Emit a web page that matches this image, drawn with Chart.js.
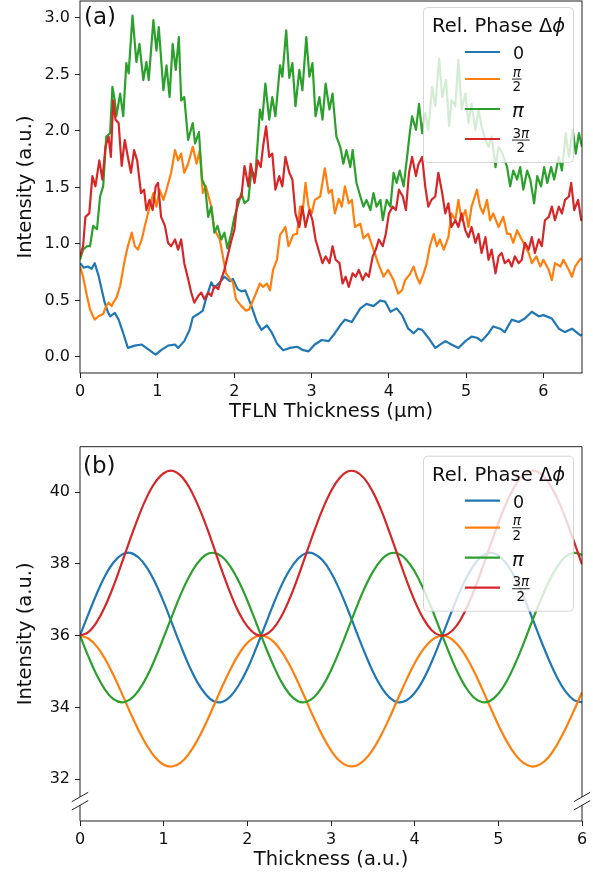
<!DOCTYPE html>
<html><head><meta charset="utf-8">
<script src="https://cdn.jsdelivr.net/npm/chart.js@4.4.1/dist/chart.umd.min.js"></script>
<style>
html,body{margin:0;padding:0;background:#fff;width:593px;height:873px;overflow:hidden;}
canvas{position:absolute;left:0;}
#c1{top:0;} #c2{top:430px;}
</style></head><body>
<canvas id="c1" width="593" height="425"></canvas>
<canvas id="c2" width="593" height="443"></canvas>
<script>
// ---------- shared ----------
const phaseNames = ['0', 'π/2', 'π', '3π/2'];
const colors = ['#1f77b4', '#ff7f0e', '#2ca02c', '#d62728'];

// ---------- panel (a): TFLN thickness (µm) vs intensity ----------
const xTicksA = [0, 1, 2, 3, 4, 5, 6];
const yTicksA = [0, 0.5, 1, 1.5, 2, 2.5, 3];
const seriesA0 = [[0,0.83],[0.05,0.79],[0.1,0.80],[0.15,0.78],[0.19,0.83],[0.24,0.72],[0.28,0.60],[0.32,0.48],[0.36,0.40],[0.39,0.36],[0.45,0.39],[0.5,0.33],[0.56,0.21],[0.62,0.08],[0.71,0.10],[0.8,0.11],[0.88,0.07],[0.98,0.02],[1.05,0.06],[1.14,0.10],[1.23,0.11],[1.27,0.08],[1.35,0.14],[1.42,0.24],[1.46,0.35],[1.53,0.38],[1.59,0.41],[1.63,0.51],[1.7,0.66],[1.74,0.61],[1.81,0.66],[1.87,0.71],[1.94,0.67],[1.98,0.69],[2.04,0.60],[2.09,0.58],[2.14,0.59],[2.18,0.52],[2.22,0.45],[2.29,0.31],[2.35,0.24],[2.42,0.28],[2.48,0.22],[2.55,0.12],[2.63,0.06],[2.72,0.08],[2.81,0.09],[2.89,0.06],[2.96,0.05],[3.04,0.11],[3.13,0.15],[3.22,0.14],[3.3,0.21],[3.37,0.28],[3.43,0.33],[3.52,0.31],[3.63,0.43],[3.71,0.47],[3.8,0.45],[3.89,0.50],[3.95,0.49],[4.02,0.40],[4.1,0.43],[4.17,0.37],[4.25,0.25],[4.32,0.21],[4.38,0.25],[4.43,0.24],[4.51,0.17],[4.6,0.08],[4.73,0.14],[4.81,0.11],[4.9,0.08],[4.99,0.14],[5.07,0.18],[5.14,0.17],[5.2,0.14],[5.29,0.21],[5.35,0.27],[5.44,0.25],[5.5,0.22],[5.59,0.33],[5.68,0.31],[5.76,0.34],[5.85,0.40],[5.94,0.36],[6,0.37],[6.11,0.34],[6.2,0.25],[6.28,0.22],[6.37,0.25],[6.48,0.19],[6.5,0.20]];
const seriesA1 = [[0,0.80],[0.04,0.71],[0.09,0.54],[0.13,0.42],[0.19,0.33],[0.24,0.36],[0.30,0.38],[0.34,0.45],[0.37,0.48],[0.41,0.45],[0.43,0.48],[0.47,0.52],[0.52,0.63],[0.58,0.86],[0.62,0.98],[0.67,1.10],[0.71,0.98],[0.75,0.95],[0.80,1.04],[0.84,1.16],[0.88,1.27],[0.95,1.45],[0.99,1.33],[1.03,1.48],[1.08,1.39],[1.12,1.48],[1.18,1.63],[1.23,1.83],[1.27,1.74],[1.31,1.80],[1.35,1.63],[1.40,1.71],[1.46,1.86],[1.51,1.71],[1.55,1.83],[1.59,1.45],[1.63,1.51],[1.70,1.33],[1.74,1.13],[1.81,1.04],[1.85,0.89],[1.89,0.74],[1.94,0.69],[1.98,0.66],[2.02,0.51],[2.09,0.45],[2.15,0.41],[2.19,0.42],[2.24,0.50],[2.33,0.65],[2.37,0.62],[2.42,0.65],[2.46,0.59],[2.50,0.77],[2.55,0.86],[2.59,1.08],[2.66,1.15],[2.70,0.98],[2.76,1.08],[2.81,1.09],[2.85,1.33],[2.89,1.33],[2.92,1.54],[2.96,1.33],[3.00,1.27],[3.04,1.39],[3.11,1.42],[3.17,1.67],[3.22,1.45],[3.26,1.48],[3.30,1.27],[3.35,1.40],[3.39,1.33],[3.43,1.51],[3.48,1.36],[3.52,1.39],[3.56,1.15],[3.63,1.18],[3.67,1.05],[3.73,1.09],[3.80,0.95],[3.86,0.83],[3.93,0.71],[3.99,0.77],[4.06,0.68],[4.12,0.56],[4.17,0.59],[4.21,0.68],[4.27,0.73],[4.32,0.80],[4.36,0.71],[4.40,0.65],[4.45,0.74],[4.49,0.83],[4.53,0.98],[4.58,1.09],[4.62,0.98],[4.66,1.04],[4.71,0.95],[4.77,1.06],[4.81,1.27],[4.86,1.21],[4.90,1.39],[4.94,1.21],[4.99,1.30],[5.03,1.15],[5.07,1.33],[5.14,1.48],[5.18,1.33],[5.22,1.27],[5.27,1.39],[5.31,1.21],[5.35,1.27],[5.42,1.15],[5.48,1.24],[5.53,1.09],[5.57,1.09],[5.61,1.01],[5.66,1.12],[5.72,1.04],[5.81,0.92],[5.85,0.83],[5.91,0.89],[5.96,0.80],[6.00,0.86],[6.07,0.77],[6.11,0.68],[6.15,0.83],[6.22,0.80],[6.26,0.86],[6.33,0.77],[6.37,0.71],[6.41,0.80],[6.48,0.87],[6.5,0.86]];
const seriesA2 = [[0,0.86],[0.04,0.95],[0.09,0.98],[0.13,0.98],[0.17,1.16],[0.22,1.13],[0.26,1.42],[0.30,1.51],[0.34,1.95],[0.39,1.98],[0.42,2.39],[0.45,2.27],[0.47,2.13],[0.52,2.33],[0.56,2.13],[0.60,2.60],[0.63,2.51],[0.68,3.02],[0.73,2.61],[0.77,2.77],[0.82,2.45],[0.86,2.61],[0.89,2.45],[0.95,2.98],[0.99,2.71],[1.02,2.92],[1.08,2.36],[1.12,2.58],[1.16,2.30],[1.20,2.77],[1.24,2.54],[1.28,2.83],[1.31,2.27],[1.35,2.30],[1.40,1.92],[1.46,2.07],[1.49,1.89],[1.54,1.99],[1.58,1.57],[1.62,1.51],[1.66,1.24],[1.70,1.33],[1.74,1.10],[1.78,1.16],[1.83,1.04],[1.87,1.10],[1.91,0.96],[1.96,1.10],[2.00,1.24],[2.04,1.33],[2.09,1.45],[2.13,1.36],[2.18,1.39],[2.22,1.65],[2.27,1.60],[2.33,2.19],[2.36,2.10],[2.40,2.42],[2.45,2.10],[2.49,2.30],[2.53,2.13],[2.59,2.58],[2.62,2.48],[2.67,2.89],[2.71,2.47],[2.75,2.60],[2.79,2.22],[2.84,2.54],[2.88,2.36],[2.93,2.83],[2.97,2.48],[3.01,2.60],[3.05,2.13],[3.10,2.30],[3.14,2.10],[3.18,2.42],[3.23,2.19],[3.27,2.33],[3.32,1.95],[3.37,1.86],[3.41,1.71],[3.45,1.83],[3.50,1.68],[3.53,1.83],[3.58,1.54],[3.63,1.42],[3.67,1.33],[3.71,1.39],[3.76,1.30],[3.80,1.45],[3.84,1.33],[3.89,1.39],[3.92,1.21],[3.97,1.39],[4.02,1.33],[4.06,1.63],[4.10,1.54],[4.14,1.65],[4.19,1.51],[4.23,1.74],[4.27,1.98],[4.30,2.13],[4.35,2.01],[4.39,2.24],[4.43,1.98],[4.47,2.16],[4.51,2.01],[4.56,2.39],[4.60,2.22],[4.65,2.64],[4.69,2.30],[4.74,2.45],[4.78,2.04],[4.81,2.27],[4.86,2.22],[4.90,2.63],[4.94,2.19],[4.99,2.33],[5.03,2.07],[5.07,2.24],[5.12,2.01],[5.16,2.19],[5.20,2.04],[5.25,1.92],[5.29,1.86],[5.33,1.95],[5.38,1.68],[5.42,1.86],[5.47,1.80],[5.53,1.68],[5.57,1.51],[5.61,1.65],[5.66,1.57],[5.70,1.68],[5.74,1.48],[5.79,1.65],[5.83,1.57],[5.88,1.36],[5.92,1.60],[5.97,1.51],[6.01,1.68],[6.05,1.54],[6.10,1.68],[6.14,1.57],[6.20,1.77],[6.24,1.65],[6.29,1.98],[6.33,1.77],[6.38,2.01],[6.42,1.80],[6.46,1.98],[6.50,1.86]];
const seriesA3 = [[0,0.89],[0.04,0.98],[0.07,1.24],[0.12,1.27],[0.16,1.60],[0.20,1.51],[0.25,1.74],[0.29,1.57],[0.33,1.86],[0.37,1.95],[0.40,1.77],[0.43,2.27],[0.46,2.10],[0.50,2.07],[0.54,1.69],[0.58,1.92],[0.62,1.77],[0.66,1.63],[0.70,1.83],[0.74,1.74],[0.79,1.45],[0.83,1.48],[0.86,1.30],[0.90,1.39],[0.94,1.30],[0.98,1.51],[1.01,1.54],[1.05,1.24],[1.10,1.16],[1.14,1.01],[1.18,0.98],[1.23,1.04],[1.27,0.95],[1.31,1.04],[1.35,0.83],[1.40,0.69],[1.44,0.57],[1.48,0.48],[1.53,0.54],[1.57,0.57],[1.61,0.51],[1.66,0.57],[1.70,0.54],[1.74,0.63],[1.79,0.60],[1.83,0.69],[1.87,0.77],[1.91,0.89],[1.96,1.03],[2.00,1.13],[2.04,1.39],[2.09,1.42],[2.13,1.69],[2.18,1.51],[2.21,1.71],[2.26,1.54],[2.30,1.74],[2.34,1.68],[2.37,1.86],[2.41,2.04],[2.45,1.77],[2.49,1.80],[2.53,1.48],[2.58,1.60],[2.62,1.51],[2.66,1.77],[2.71,1.63],[2.75,1.57],[2.79,1.27],[2.84,1.15],[2.88,1.33],[2.92,1.15],[2.97,1.30],[3.01,1.21],[3.05,1.04],[3.10,0.92],[3.14,0.83],[3.18,0.89],[3.23,0.83],[3.27,0.98],[3.31,0.86],[3.36,0.83],[3.40,0.65],[3.44,0.71],[3.48,0.62],[3.53,0.74],[3.57,0.71],[3.61,0.77],[3.66,0.68],[3.70,0.74],[3.74,0.71],[3.79,0.89],[3.83,0.95],[3.87,1.04],[3.92,0.98],[3.96,1.09],[4.00,1.27],[4.05,1.33],[4.09,1.30],[4.13,1.48],[4.18,1.42],[4.22,1.30],[4.26,1.63],[4.30,1.77],[4.35,1.60],[4.38,1.70],[4.43,1.77],[4.47,1.51],[4.51,1.33],[4.55,1.39],[4.60,1.42],[4.64,1.63],[4.69,1.45],[4.73,1.27],[4.77,1.36],[4.81,1.15],[4.86,1.21],[4.90,1.15],[4.94,1.27],[4.99,1.12],[5.03,1.06],[5.07,1.15],[5.12,1.01],[5.16,1.09],[5.20,0.92],[5.25,1.06],[5.29,0.86],[5.33,0.95],[5.38,0.74],[5.42,0.89],[5.46,0.92],[5.50,0.83],[5.55,0.86],[5.59,0.80],[5.63,0.89],[5.68,0.83],[5.72,0.86],[5.76,1.01],[5.81,0.95],[5.85,1.06],[5.89,0.92],[5.94,1.04],[5.98,0.98],[6.02,1.21],[6.07,1.24],[6.11,1.33],[6.15,1.21],[6.20,1.33],[6.24,1.27],[6.28,1.39],[6.33,1.42],[6.36,1.54],[6.40,1.30],[6.45,1.39],[6.49,1.21],[6.5,1.22]];

// ---------- panel (b): thickness (a.u.) vs intensity ----------
const xTicksB = [0, 1, 2, 3, 4, 5, 6];
const yTicksB = [32, 34, 36, 38, 40];
const thicknessB = [0,0.1,0.2,0.3,0.4,0.5,0.6,0.7,0.8,0.9,1,1.1,1.2,1.3,1.4,1.5,1.6,1.7,1.8,1.9,2,2.1,2.2,2.3,2.4,2.5,2.6,2.7,2.8,2.9,3,3.1,3.2,3.3,3.4,3.5,3.6,3.7,3.8,3.9,4,4.1,4.2,4.3,4.4,4.5,4.6,4.7,4.8,4.9,5,5.1,5.2,5.3,5.4,5.5,5.6,5.7,5.8,5.9,6];
const seriesB0 = [36.00,36.60,37.17,37.67,38.04,38.26,38.31,38.18,37.90,37.47,36.94,36.34,35.74,35.18,34.71,34.37,34.17,34.15,34.31,34.63,35.07,35.62,36.21,36.81,37.36,37.81,38.13,38.30,38.28,38.10,37.76,37.29,36.73,36.13,35.54,35.00,34.57,34.27,34.14,34.19,34.40,34.76,35.25,35.82,36.42,37.01,37.53,37.94,38.21,38.31,38.24,38.00,37.61,37.10,36.52,35.92,35.35,34.84,34.45,34.21,34.14];
const seriesB1 = [36.00,35.92,35.70,35.35,34.90,34.39,33.86,33.36,32.93,32.60,32.40,32.35,32.45,32.70,33.07,33.53,34.05,34.58,35.07,35.49,35.80,35.97,35.99,35.86,35.59,35.20,34.73,34.21,33.68,33.20,32.80,32.51,32.37,32.37,32.53,32.82,33.23,33.71,34.24,34.76,35.23,35.61,35.87,35.99,35.96,35.78,35.47,35.05,34.55,34.02,33.51,33.05,32.69,32.45,32.35,32.41,32.61,32.95,33.39,33.89,34.42];
const seriesB2 = [36.00,35.42,34.90,34.49,34.23,34.14,34.22,34.47,34.86,35.37,35.95,36.55,37.13,37.63,38.01,38.25,38.31,38.20,37.92,37.50,36.98,36.39,35.79,35.23,34.74,34.38,34.18,34.15,34.29,34.59,35.03,35.57,36.16,36.76,37.32,37.78,38.11,38.29,38.29,38.12,37.79,37.33,36.78,36.18,35.59,35.04,34.60,34.29,34.15,34.18,34.38,34.73,35.21,35.77,36.38,36.96,37.49,37.91,38.20,38.31,38.25];
const seriesB3 = [36.00,36.10,36.38,36.82,37.38,38.03,38.69,39.32,39.87,40.28,40.53,40.60,40.47,40.16,39.69,39.12,38.46,37.79,37.17,36.64,36.26,36.04,36.01,36.17,36.51,37.00,37.60,38.26,38.92,39.53,40.03,40.39,40.58,40.57,40.38,40.01,39.50,38.88,38.22,37.56,36.97,36.49,36.16,36.01,36.05,36.27,36.67,37.20,37.83,38.49,39.14,39.72,40.18,40.48,40.60,40.53,40.27,39.85,39.29,38.65,37.99];

const TXT = '#111';
const FONT = '"DejaVu Sans", sans-serif';
Chart.defaults.font.family = FONT;

function roundRectPath(ctx, x, y, w, h, r) {
  ctx.beginPath();
  ctx.moveTo(x + r, y);
  ctx.arcTo(x + w, y, x + w, y + h, r);
  ctx.arcTo(x + w, y + h, x, y + h, r);
  ctx.arcTo(x, y + h, x, y, r);
  ctx.arcTo(x, y, x + w, y, r);
  ctx.closePath();
}

// mixed text where π is italic
function drawMixed(ctx, str, x, y, size) {
  let cx = x;
  for (const ch of str) {
    ctx.font = (ch === 'π' ? 'italic ' : '') + size + 'px ' + FONT;
    ctx.fillText(ch, cx, y);
    cx += ctx.measureText(ch).width;
  }
  return cx - x;
}
function measureMixed(ctx, str, size) {
  let w = 0;
  for (const ch of str) {
    ctx.font = (ch === 'π' ? 'italic ' : '') + size + 'px ' + FONT;
    w += ctx.measureText(ch).width;
  }
  return w;
}
function drawFrac(ctx, num, den, x, y) {
  const s = 13.5;
  const wn = measureMixed(ctx, num, s), wd = measureMixed(ctx, den, s);
  const w = Math.max(wn, wd) + 1;
  drawMixed(ctx, num, x + (w - wn) / 2, y - 2.5, s);
  drawMixed(ctx, den, x + (w - wd) / 2, y + 12.3, s);
  ctx.fillRect(x, y - 0.4, w, 0.9);
}

function drawLegend(ctx, L, T) {
  const W = 150, H = 155;
  ctx.save();
  roundRectPath(ctx, L + 0.5, T + 0.5, W, H, 4);
  ctx.fillStyle = 'rgba(255,255,255,0.8)';
  ctx.fill();
  ctx.strokeStyle = 'rgba(204,204,204,0.8)';
  ctx.lineWidth = 1;
  ctx.stroke();
  ctx.fillStyle = TXT;
  ctx.textAlign = 'left';
  ctx.textBaseline = 'alphabetic';
  ctx.font = '19.5px ' + FONT;
  const title = 'Rel. Phase Δ';
  ctx.fillText(title, L + 9, T + 25);
  const tw = ctx.measureText(title).width;
  ctx.font = 'italic 19.5px ' + FONT;
  ctx.fillText('ϕ', L + 9 + tw, T + 25);
  const ly = [45, 72, 102, 132];
  for (let i = 0; i < 4; i++) {
    ctx.strokeStyle = colors[i];
    ctx.lineWidth = 2.2;
    ctx.beginPath();
    ctx.moveTo(L + 42, T + ly[i]);
    ctx.lineTo(L + 77, T + ly[i]);
    ctx.stroke();
  }
  const lx = L + 90;
  ctx.fillStyle = TXT;
  ctx.font = '17.5px ' + FONT;
  ctx.fillText(phaseNames[0], lx, T + ly[0] + 7);
  const f1 = phaseNames[1].split('/');
  drawFrac(ctx, f1[0], f1[1], lx - 1, T + ly[1]);
  ctx.font = 'italic 19.5px ' + FONT;
  ctx.fillText(phaseNames[2], lx - 1, T + ly[2] + 8);
  const f3 = phaseNames[3].split('/');
  drawFrac(ctx, f3[0], f3[1], lx - 1, T + ly[3] + 1);
  ctx.restore();
}

function makeScales(xmin, xmax, xt, xTitle, ymin, ymax, yt, yfmt) {
  const grid = {display: true, drawOnChartArea: false, drawTicks: true, tickLength: 5, tickColor: '#222', tickWidth: 1};
  return {
    x: {
      type: 'linear', min: xmin, max: xmax,
      afterBuildTicks: s => { s.ticks = xt.map(v => ({value: v})); },
      afterFit: s => { s.height = 52; s.paddingLeft = 0; s.paddingRight = 0; },
      ticks: {color: TXT, font: {size: 16}, padding: 4, maxRotation: 0, autoSkip: false, callback: v => String(v)},
      grid: grid, border: {display: false},
      title: {display: true, text: xTitle, color: TXT, font: {size: 19.5}, padding: {top: 0, bottom: 1.5}}
    },
    y: {
      type: 'linear', min: ymin, max: ymax,
      afterBuildTicks: s => { s.ticks = yt.map(v => ({value: v})); },
      afterFit: s => { s.width = 80; s.paddingTop = 0; s.paddingBottom = 0; },
      ticks: {color: TXT, font: {size: 16}, padding: 5, autoSkip: false, callback: yfmt},
      grid: grid, border: {display: false},
      title: {display: true, text: 'Intensity (a.u.)', color: TXT, font: {size: 19.5}, padding: {top: 14, bottom: 0}}
    }
  };
}

// ---------- chart (a) ----------
const seriesA = [seriesA0, seriesA1, seriesA2, seriesA3];
const frameA = {
  id: 'frameA',
  afterDatasetsDraw(chart) {
    const {ctx, chartArea: a} = chart;
    ctx.save();
    ctx.strokeStyle = '#222';
    ctx.lineWidth = 1;
    ctx.strokeRect(a.left, a.top, a.right - a.left, a.bottom - a.top);
    ctx.restore();
  },
  afterDraw(chart) {
    const ctx = chart.ctx;
    drawLegend(ctx, 423, 7);
    ctx.save();
    ctx.fillStyle = TXT;
    ctx.font = '23px ' + FONT;
    ctx.textBaseline = 'alphabetic';
    ctx.fillText('(a)', 84, 23.5);
    ctx.restore();
  }
};
new Chart(document.getElementById('c1'), {
  type: 'line',
  data: {
    datasets: seriesA.map((s, i) => ({
      label: phaseNames[i],
      data: s.map(p => ({x: p[0], y: p[1]})),
      borderColor: colors[i], backgroundColor: colors[i],
      borderWidth: 2.2, pointRadius: 0, tension: 0, fill: false,
      borderJoinStyle: 'round', order: 3 - i
    }))
  },
  options: {
    responsive: false, animation: false, devicePixelRatio: 1,
    layout: {padding: {left: 0, right: 11, top: 1, bottom: 0}},
    plugins: {legend: {display: false}, tooltip: {enabled: false}},
    scales: makeScales(0, 6.5, xTicksA, 'TFLN Thickness (μm)', -0.142, 3.15, yTicksA, v => v.toFixed(1))
  },
  plugins: [frameA]
});

// ---------- chart (b) ----------
const seriesB = [seriesB0, seriesB1, seriesB2, seriesB3];
const frameB = {
  id: 'frameB',
  afterDatasetsDraw(chart) {
    const {ctx, chartArea: a} = chart;
    const g1 = 367, g2 = 375.3; // axis break (canvas-local y)
    ctx.save();
    ctx.strokeStyle = '#222';
    ctx.lineWidth = 1;
    ctx.beginPath();
    ctx.moveTo(a.left, a.top); ctx.lineTo(a.right, a.top);
    ctx.moveTo(a.left, a.bottom); ctx.lineTo(a.right, a.bottom);
    for (const x of [a.left, a.right]) {
      ctx.moveTo(x, a.top); ctx.lineTo(x, g1);
      ctx.moveTo(x, g2); ctx.lineTo(x, a.bottom);
      for (const yc of [g1, g2]) {
        ctx.moveTo(x - 8.2, yc + 4.7);
        ctx.lineTo(x + 8.2, yc - 4.7);
      }
    }
    ctx.stroke();
    ctx.restore();
  },
  afterDraw(chart) {
    const ctx = chart.ctx;
    drawLegend(ctx, 423, 25.7);
    ctx.save();
    ctx.fillStyle = TXT;
    ctx.font = '23px ' + FONT;
    ctx.textBaseline = 'alphabetic';
    ctx.fillText('(b)', 83, 42.5);
    ctx.restore();
  }
};
new Chart(document.getElementById('c2'), {
  type: 'line',
  data: {
    datasets: seriesB.map((s, i) => ({
      label: phaseNames[i],
      data: s.map((v, k) => ({x: thicknessB[k], y: v})),
      borderColor: colors[i], backgroundColor: colors[i],
      borderWidth: 2.2, pointRadius: 0, tension: 0.4, fill: false,
      order: 3 - i
    }))
  },
  options: {
    responsive: false, animation: false, devicePixelRatio: 1,
    layout: {padding: {left: 0, right: 11, top: 16.7, bottom: 0}},
    plugins: {legend: {display: false}, tooltip: {enabled: false}},
    scales: makeScales(0, 6, xTicksB, 'Thickness (a.u.)', 30.83, 41.27, yTicksB, v => String(v))
  },
  plugins: [frameB]
});
</script>
</body></html>
